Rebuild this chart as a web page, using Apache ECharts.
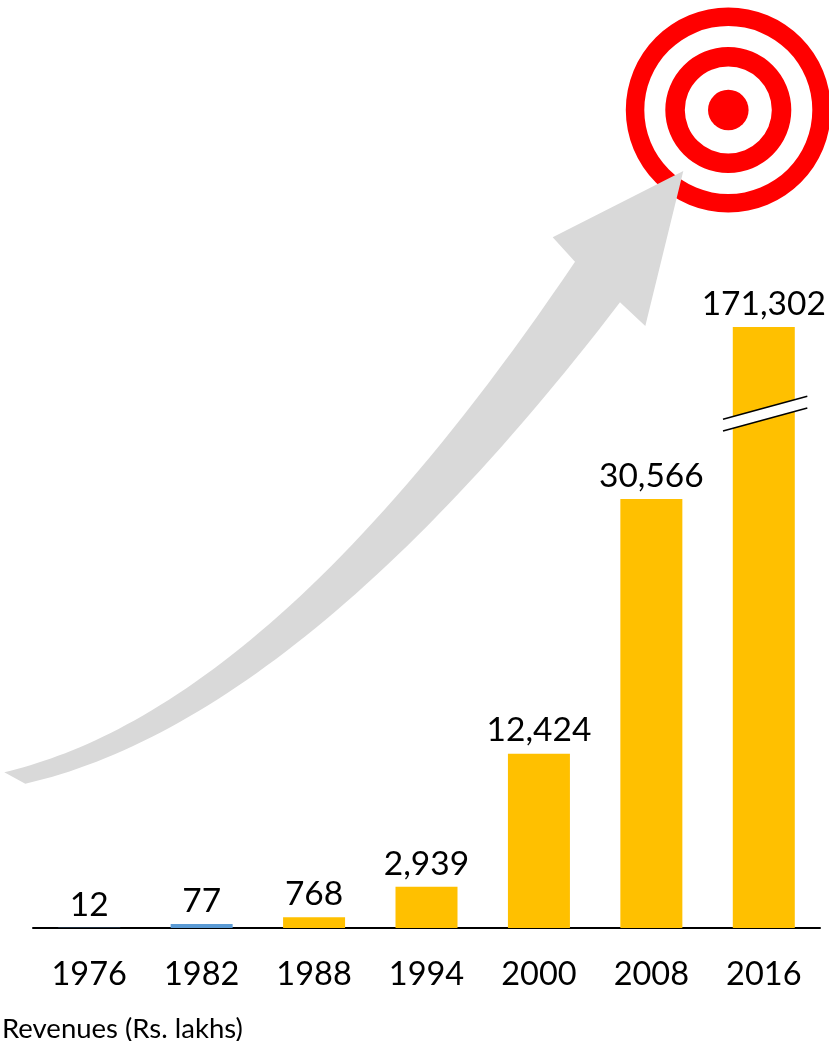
<!DOCTYPE html>
<html>
<head>
<meta charset="utf-8">
<style>html,body{margin:0;padding:0;background:#fff}#c{width:829px;height:1041px}</style>
<script src="https://cdn.jsdelivr.net/npm/echarts@6/dist/echarts.min.js"></script>
</head>
<body>
<div id="c"></div>
<script>
const years = ['1976','1982','1988','1994','2000','2008','2016'];
const revenues = [12, 77, 768, 2939, 12424, 30566, 171302];
const barColors = ['#5B9BD5', '#5B9BD5', '#FFC000', '#FFC000', '#FFC000', '#FFC000', '#FFC000'];
const caption = 'Revenues (Rs. lakhs)';
const FONT = 'Lato';

// decorative curved arrow outline, sampled from two cubic curves
function cubic(p0, p1, p2, p3, n) {
  const out = [];
  for (let i = 0; i <= n; i++) {
    const t = i / n, u = 1 - t;
    out.push([
      u*u*u*p0[0] + 3*u*u*t*p1[0] + 3*u*t*t*p2[0] + t*t*t*p3[0],
      u*u*u*p0[1] + 3*u*u*t*p1[1] + 3*u*t*t*p2[1] + t*t*t*p3[1]
    ]);
  }
  return out;
}
const arrowPoints = [
  ...cubic([4.3,772.3],[130,742],[320,640],[575,261.7],60),
  [552.7,237.3],[683.3,171],[645.3,326],
  ...cubic([620,302.3],[400,590],[200,744],[25.3,783.7],60)
];

const barLabel = {
  show: true, position: 'top', distance: 6, color: '#000',
  fontFamily: FONT, fontSize: 33.5,
  formatter: p => p.value.toLocaleString('en-US')
};
const item = (v, i) => ({value: v, itemStyle: {color: barColors[i]}});

const chart = echarts.init(document.getElementById('c'), null, {renderer: 'canvas'});
chart.setOption({
  animation: false,
  backgroundColor: '#fff',
  title: {
    text: caption, left: 2, top: 1015, padding: 0,
    textStyle: {fontFamily: FONT, fontSize: 27.5, fontWeight: 'normal', color: '#000'}
  },
  grid: {left: 33, right: 9, top: 327, bottom: 113, containLabel: false},
  xAxis: {
    type: 'category', data: years,
    axisLine: {show: true, lineStyle: {color: '#000', width: 2}},
    axisTick: {show: false},
    axisLabel: {color: '#000', fontFamily: FONT, fontSize: 32.5, margin: 30, interval: 0}
  },
  yAxis: {
    type: 'value', min: 0, max: 171302, show: false, splitLine: {show: false},
    breaks: [{start: 37000, end: 165481, gap: 0}],
    breakArea: {show: false}
  },
  series: [
    {
      // first year: the value is too small to show a bar above the axis
      type: 'bar', barWidth: 62, barGap: '-100%',
      data: revenues.map((v, i) => (i === 0 ? item(v, i) : null)),
      label: barLabel
    },
    {
      type: 'bar', barWidth: 62, barGap: '-100%', barMinHeight: 4,
      data: revenues.map((v, i) => (i === 0 ? null : item(v, i))),
      label: barLabel
    }
  ],
  graphic: [
    {type: 'ring', z: 1, shape: {cx: 728.3, cy: 110, r: 102.5, r0: 84}, style: {fill: '#FF0000'}},
    {type: 'ring', z: 1, shape: {cx: 728.3, cy: 110, r: 63, r0: 43.5}, style: {fill: '#FF0000'}},
    {type: 'circle', z: 1, shape: {cx: 728.3, cy: 110, r: 20.3}, style: {fill: '#FF0000'}},
    {type: 'polygon', z: 2, shape: {points: arrowPoints}, style: {fill: '#D9D9D9'}},
    {type: 'polygon', z: 10, shape: {points: [[723,419.3],[807.3,396.3],[807.3,408],[723,431]]}, style: {fill: '#fff'}},
    {type: 'line', z: 11, shape: {x1: 723, y1: 419.3, x2: 807.3, y2: 396.3}, style: {stroke: '#000', lineWidth: 1.5}},
    {type: 'line', z: 11, shape: {x1: 723, y1: 431, x2: 807.3, y2: 408}, style: {stroke: '#000', lineWidth: 1.5}}
  ]
});
</script>
</body>
</html>
